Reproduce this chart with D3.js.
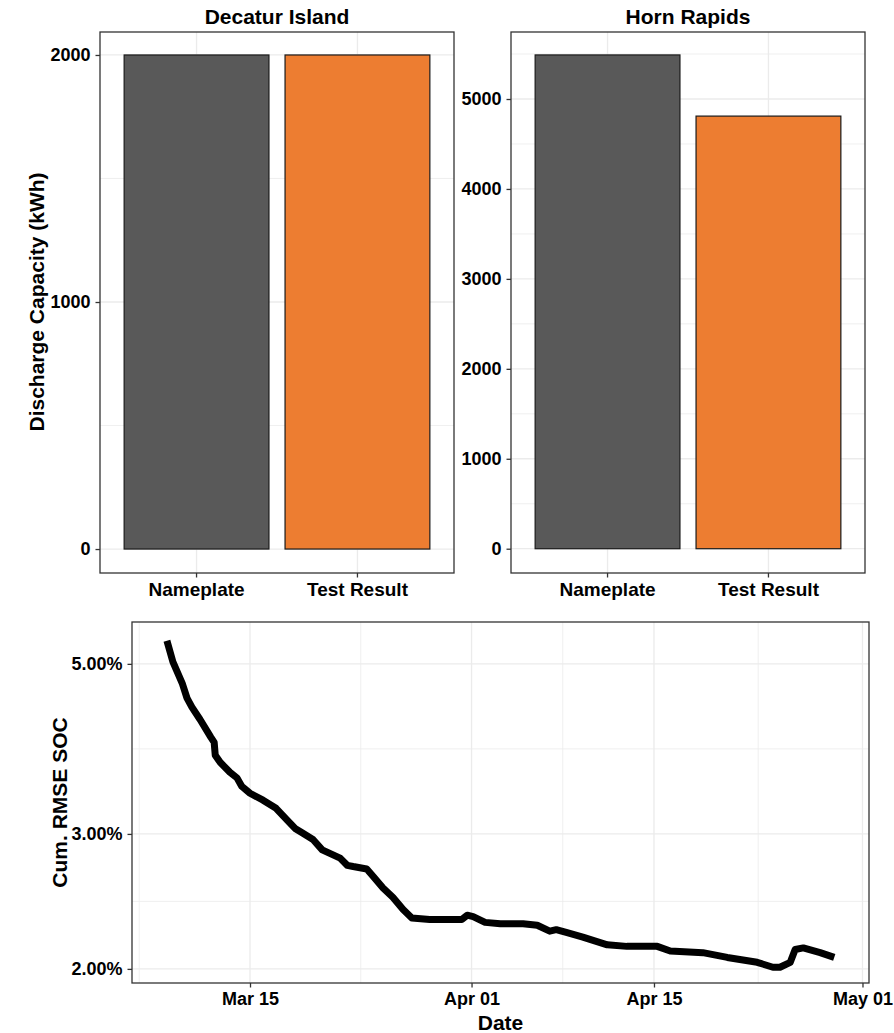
<!DOCTYPE html>
<html>
<head>
<meta charset="utf-8">
<script src="https://cdn.jsdelivr.net/npm/d3@7"></script>
<style>
  html, body { margin: 0; padding: 0; background: #ffffff; }
  svg text { font-family: "Liberation Sans", Arial, sans-serif; font-weight: bold; fill: #000; }
</style>
</head>
<body>
<svg id="fig" width="894" height="1033"></svg>
<script>
// Discharge capacity per site
const capacityCategories = ["Nameplate", "Test Result"];
const decaturValues = [2000, 2000];
const hornRapidsValues = [5490, 4810];
const barColors = ["#595959", "#ED7D31"];
const decaturTicks = [0, 1000, 2000];
const decaturMinor = [500, 1500];
const hornTicks = [0, 1000, 2000, 3000, 4000, 5000];
const hornMinor = [500, 1500, 2500, 3500, 4500, 5500];

// Cumulative RMSE of state of charge (%)
const rmseDates = [
  "2022-03-08 15:00", "2022-03-09 02:00", "2022-03-09 19:00", "2022-03-10 04:00",
  "2022-03-10 13:00", "2022-03-11 04:00", "2022-03-12 00:00", "2022-03-12 06:00",
  "2022-03-12 08:00", "2022-03-12 17:00", "2022-03-13 11:00", "2022-03-14 00:00",
  "2022-03-14 09:00", "2022-03-15 00:00", "2022-03-16 00:00", "2022-03-17 00:00",
  "2022-03-17 20:00", "2022-03-18 11:00", "2022-03-19 00:00", "2022-03-19 20:00",
  "2022-03-20 13:00", "2022-03-21 03:00", "2022-03-21 22:00", "2022-03-22 11:00",
  "2022-03-22 22:00", "2022-03-23 23:00", "2022-03-24 11:00", "2022-03-25 05:00",
  "2022-03-25 23:00", "2022-03-26 18:00", "2022-03-27 10:00", "2022-03-28 19:00",
  "2022-03-31 06:00", "2022-03-31 16:00", "2022-04-01 03:00", "2022-04-02 01:00",
  "2022-04-03 05:00", "2022-04-04 23:00", "2022-04-06 01:00", "2022-04-07 00:00",
  "2022-04-07 12:00", "2022-04-08 08:00", "2022-04-09 13:00", "2022-04-11 10:00",
  "2022-04-12 22:00", "2022-04-15 06:00", "2022-04-16 06:00", "2022-04-18 18:00",
  "2022-04-20 15:00", "2022-04-22 22:00", "2022-04-24 03:00", "2022-04-24 16:00",
  "2022-04-25 11:00", "2022-04-25 20:00", "2022-04-26 11:00", "2022-04-27 18:00",
  "2022-04-28 20:00"
];
const rmseValues = [
  5.36, 5.03, 4.72, 4.51,
  4.39, 4.23, 4.01, 3.95,
  3.80, 3.72, 3.61, 3.55,
  3.46, 3.39, 3.32, 3.24,
  3.13, 3.05, 3.01, 2.95,
  2.86, 2.83, 2.79, 2.73,
  2.72, 2.70, 2.64, 2.55,
  2.48, 2.39, 2.33, 2.32,
  2.32, 2.35, 2.34, 2.30,
  2.29, 2.29, 2.28, 2.24,
  2.25, 2.23, 2.20, 2.15,
  2.14, 2.14, 2.11, 2.10,
  2.07, 2.04, 2.01, 2.01,
  2.04, 2.12, 2.13, 2.10,
  2.07
];
const rmseTicks = [2, 3, 5];
const dateTicks = ["2022-03-15 00:00", "2022-04-01 00:00", "2022-04-15 00:00", "2022-05-01 00:00"];
const dateTickLabels = ["Mar 15", "Apr 01", "Apr 15", "May 01"];

const parseTime = d3.timeParse("%Y-%m-%d %H:%M");
const svg = d3.select("#fig");

const GRID = "#EBEBEB", BORDER = "#333333";
const TICK_LEN = 4.5;
const TICK_FONT = 18, CAT_FONT = 19, TITLE_FONT = 21;

function barPanel(opts) {
  const { left, right, top, bottom, title, values, domain, ticks, minor } = opts;
  const g = svg.append("g");
  const x = d3.scaleBand().domain(capacityCategories).range([left, right])
    .paddingInner(0.1).paddingOuter(0.15);
  const y = d3.scaleLinear().domain(domain).range([bottom, top]);

  // grid
  g.append("g").selectAll("line").data(minor).join("line")
    .attr("x1", left).attr("x2", right)
    .attr("y1", d => y(d)).attr("y2", d => y(d))
    .attr("stroke", GRID).attr("stroke-width", 0.8);
  g.append("g").selectAll("line").data(ticks).join("line")
    .attr("x1", left).attr("x2", right)
    .attr("y1", d => y(d)).attr("y2", d => y(d))
    .attr("stroke", GRID).attr("stroke-width", 1.3);
  g.append("g").selectAll("line").data(capacityCategories).join("line")
    .attr("x1", d => x(d) + x.bandwidth() / 2).attr("x2", d => x(d) + x.bandwidth() / 2)
    .attr("y1", top).attr("y2", bottom)
    .attr("stroke", GRID).attr("stroke-width", 1.3);

  // bars
  g.append("g").selectAll("rect").data(values).join("rect")
    .attr("x", (d, i) => x(capacityCategories[i]))
    .attr("width", x.bandwidth())
    .attr("y", d => y(d))
    .attr("height", d => y(0) - y(d))
    .attr("fill", (d, i) => barColors[i])
    .attr("stroke", "#1a1a1a").attr("stroke-width", 1.2);

  // border
  g.append("rect").attr("x", left).attr("y", top)
    .attr("width", right - left).attr("height", bottom - top)
    .attr("fill", "none").attr("stroke", BORDER).attr("stroke-width", 1.3);

  // y axis
  const yAxis = g.append("g").attr("transform", `translate(${left},0)`)
    .call(d3.axisLeft(y).tickValues(ticks).tickSize(TICK_LEN).tickPadding(5).tickFormat(d3.format("d")));
  yAxis.select(".domain").remove();
  yAxis.selectAll(".tick line").attr("stroke", BORDER).attr("stroke-width", 1.3);
  yAxis.selectAll(".tick text").attr("font-size", TICK_FONT).attr("fill", "#000")
    .attr("font-family", null);

  // x axis
  const xAxis = g.append("g").attr("transform", `translate(0,${bottom})`)
    .call(d3.axisBottom(x).tickSize(TICK_LEN).tickPadding(5));
  xAxis.select(".domain").remove();
  xAxis.selectAll(".tick line").attr("stroke", BORDER).attr("stroke-width", 1.3);
  xAxis.selectAll(".tick text").attr("font-size", CAT_FONT).attr("fill", "#000")
    .attr("font-family", null);

  g.append("text").attr("x", (left + right) / 2).attr("y", top - 8.5)
    .attr("text-anchor", "middle").attr("font-size", TITLE_FONT).text(title);
}

barPanel({
  left: 100, right: 454, top: 32, bottom: 573,
  title: "Decatur Island", values: decaturValues,
  domain: [-97, 2093], ticks: decaturTicks, minor: decaturMinor
});
barPanel({
  left: 511, right: 865, top: 32, bottom: 573,
  title: "Horn Rapids", values: hornRapidsValues,
  domain: [-270, 5745], ticks: hornTicks, minor: hornMinor
});

svg.append("text")
  .attr("transform", "translate(44,302) rotate(-90)")
  .attr("text-anchor", "middle").attr("font-size", TITLE_FONT)
  .text("Discharge Capacity (kWh)");

// ---- cumulative RMSE line ----
(function () {
  const left = 132, right = 869, top = 622, bottom = 983;
  const g = svg.append("g");
  const x = d3.scaleTime()
    .domain([parseTime("2022-03-05 22:40"), parseTime("2022-05-01 12:00")])
    .range([left, right]);
  const y = d3.scaleLog().domain([1.917, 5.67]).range([bottom, top]);

  const majorDates = dateTicks.map(parseTime);
  const minorDates = [];
  const step0 = majorDates[1] - majorDates[0];
  minorDates.push(new Date(+majorDates[0] - step0 / 2));
  for (let i = 0; i < majorDates.length - 1; i++) {
    minorDates.push(new Date((+majorDates[i] + +majorDates[i + 1]) / 2));
  }
  const minorY = [];
  for (let i = 0; i < rmseTicks.length - 1; i++) {
    minorY.push(Math.sqrt(rmseTicks[i] * rmseTicks[i + 1]));
  }

  g.append("g").selectAll("line").data(minorY).join("line")
    .attr("x1", left).attr("x2", right)
    .attr("y1", d => y(d)).attr("y2", d => y(d))
    .attr("stroke", GRID).attr("stroke-width", 0.8);
  g.append("g").selectAll("line").data(minorDates).join("line")
    .attr("x1", d => x(d)).attr("x2", d => x(d))
    .attr("y1", top).attr("y2", bottom)
    .attr("stroke", GRID).attr("stroke-width", 0.8);
  g.append("g").selectAll("line").data(rmseTicks).join("line")
    .attr("x1", left).attr("x2", right)
    .attr("y1", d => y(d)).attr("y2", d => y(d))
    .attr("stroke", GRID).attr("stroke-width", 1.3);
  g.append("g").selectAll("line").data(majorDates).join("line")
    .attr("x1", d => x(d)).attr("x2", d => x(d))
    .attr("y1", top).attr("y2", bottom)
    .attr("stroke", GRID).attr("stroke-width", 1.3);

  const pts = rmseDates.map((d, i) => [parseTime(d), rmseValues[i]]);
  g.append("path").datum(pts)
    .attr("fill", "none").attr("stroke", "#000")
    .attr("stroke-width", 7).attr("stroke-linejoin", "round").attr("stroke-linecap", "butt")
    .attr("d", d3.line().x(d => x(d[0])).y(d => y(d[1])));

  g.append("rect").attr("x", left).attr("y", top)
    .attr("width", right - left).attr("height", bottom - top)
    .attr("fill", "none").attr("stroke", BORDER).attr("stroke-width", 1.3);

  const yAxis = g.append("g").attr("transform", `translate(${left},0)`)
    .call(d3.axisLeft(y).tickValues(rmseTicks).tickSize(TICK_LEN).tickPadding(5)
      .tickFormat(d => d3.format(".2f")(d) + "%"));
  yAxis.select(".domain").remove();
  yAxis.selectAll(".tick line").attr("stroke", BORDER).attr("stroke-width", 1.3);
  yAxis.selectAll(".tick text").attr("font-size", TICK_FONT).attr("fill", "#000").attr("font-family", null);

  const xAxis = g.append("g").attr("transform", `translate(0,${bottom})`)
    .call(d3.axisBottom(x).tickValues(majorDates).tickSize(TICK_LEN).tickPadding(5)
      .tickFormat((d, i) => dateTickLabels[i]));
  xAxis.select(".domain").remove();
  xAxis.selectAll(".tick line").attr("stroke", BORDER).attr("stroke-width", 1.3);
  xAxis.selectAll(".tick text").attr("font-size", TICK_FONT).attr("fill", "#000").attr("font-family", null);

  svg.append("text").attr("x", (left + right) / 2).attr("y", 1030)
    .attr("text-anchor", "middle").attr("font-size", TITLE_FONT).text("Date");
  svg.append("text")
    .attr("transform", `translate(67,${(top + bottom) / 2}) rotate(-90)`)
    .attr("text-anchor", "middle").attr("font-size", TITLE_FONT)
    .text("Cum. RMSE SOC");
})();
</script>
</body>
</html>
